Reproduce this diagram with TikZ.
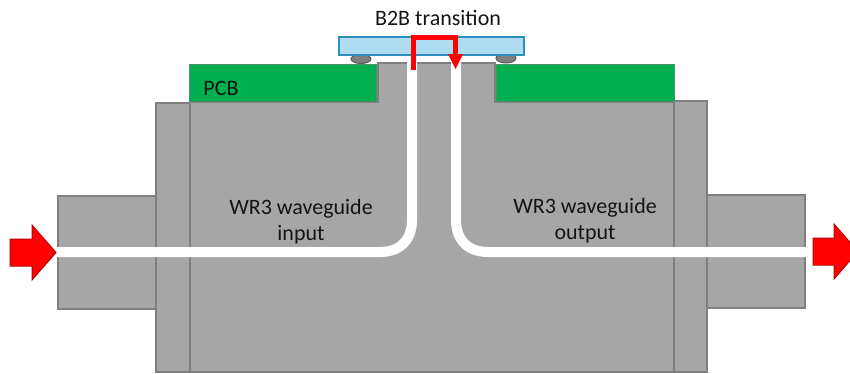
\documentclass[tikz,border=0pt]{standalone}
\usepackage{fontspec}
\usetikzlibrary{shapes.geometric}
\setmainfont{Carlito}
\definecolor{blockfill}{HTML}{A6A6A6}
\definecolor{blockline}{HTML}{7F7F7F}
\definecolor{pcbgreen}{HTML}{00B050}
\definecolor{boardfill}{HTML}{B0DCF2}
\definecolor{boardline}{HTML}{2E8FBF}
\definecolor{flowred}{HTML}{FF0000}
\definecolor{flowedge}{HTML}{C00000}
\tikzset{
  block/.style={draw=blockline,fill=blockfill,line width=2.2pt,line join=miter},
  guide/.style={draw=white,line width=10pt},
  pcb/.style={fill=pcbgreen,draw=blockline!60!pcbgreen,line width=1pt},
  ball/.style={ellipse,draw=blockline!70!black,fill=blockline,line width=1pt,inner sep=0pt},
  board/.style={draw=boardline,fill=boardfill,line width=2pt},
  flow/.style={fill=flowred,draw=flowedge,line width=1pt,line join=miter},
  label/.style={font=\fontsize{22}{26}\selectfont,text=black!92,inner sep=0pt,anchor=center}
}
\begin{document}
\begin{tikzpicture}[x=1pt,y=-1pt]
\useasboundingbox (0,0) rectangle (850,373);
\clip (0,0) rectangle (850,373);
% flanges and body
\draw[block] (58,196) rectangle (156,309);
\draw[block] (707,195) rectangle (805,308);
\draw[block] (156,103) rectangle (190,372);
\draw[block] (674,101) rectangle (707,372);
\draw[block] (190,372) -- (190,102) -- (378,102) -- (378,63) -- (495,63) -- (495,102) -- (674,102) -- (674,372) -- cycle;
% PCB
\draw[pcb] (189,64) rectangle (376.5,101.5);
\draw[pcb] (496.5,64) rectangle (674,101.5);
% waveguides
\draw[guide] (57,252) -- (380,252) .. controls (400,252) and (412,240) .. (412,220) -- (412,61);
\draw[guide] (806,252) -- (488,252) .. controls (468,252) and (456,240) .. (456,220) -- (456,61);
% solder balls and board
\node[ball,minimum width=20pt,minimum height=9pt] (ballL) at (361,59) {};
\node[ball,minimum width=20pt,minimum height=10pt] (ballR) at (506,58) {};
\draw[board] (339,37) rectangle (524,55);
% red signal path
\draw[flowred,line width=5pt,line join=miter] (413.5,70) -- (413.5,37) -- (455.5,37) -- (455.5,56);
\fill[flowred] (448,54) -- (463,54) -- (455.5,69) -- cycle;
% port arrows
\draw[flow] (10,239) -- (32,239) -- (32,225) -- (56,252.5) -- (32,280) -- (32,266) -- (10,266) -- cycle;
\draw[flow] (813,238) -- (834,238) -- (834,224) -- (858,251.5) -- (834,279) -- (834,265) -- (813,265) -- cycle;
% labels
\node[label] (title) at (438,17.5) {B2B transition};
\node[label] (pcblabel) at (221,88) {PCB};
\node[label] (wgin) at (301,208.5) {WR3 waveguide};
\node[label] (wgintwo) at (301,234.5) {input};
\node[label] (wgout) at (585,207.5) {WR3 waveguide};
\node[label] (wgouttwo) at (585,234.5) {output};
\end{tikzpicture}
\end{document}
